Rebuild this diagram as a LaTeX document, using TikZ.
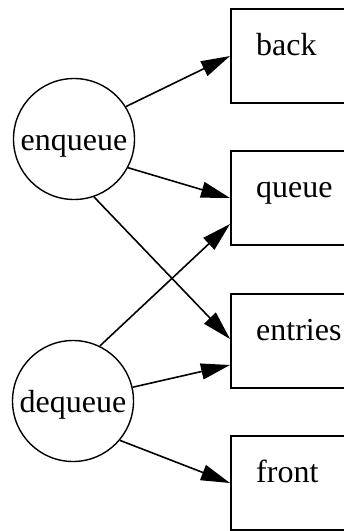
\documentclass[tikz,border=0pt]{standalone}
\usepackage{fontspec}
\setmainfont{Liberation Serif}
\usetikzlibrary{arrows.meta}
\begin{document}
\begin{tikzpicture}[x=1pt,y=-1pt,
  op/.style={circle,draw,line width=1.4pt,minimum size=121pt,inner sep=0pt,
    text height=22pt,text depth=0pt,font=\fontsize{32}{36}\selectfont},
  store/.style={rectangle,draw,line width=2pt,minimum width=140pt,
    minimum height=94pt,anchor=north west,inner sep=0pt},
  lbl/.style={anchor=base west,inner sep=0pt,font=\fontsize{32}{36}\selectfont},
  flow/.style={line width=1.6pt,-{Triangle[length=29pt,width=16pt]}}]
\useasboundingbox (0,0) rectangle (344,531);
\clip (0,0) rectangle (344,531);

% operations
\node[op] (enq) at (74,139) {enqueue};
\node[op] (deq) at (73,401) {dequeue};

% state fields (boxes run off the right edge)
\node[store] (back)    at (230,8)   {};
\node[store] (queue)   at (230,150) {};
\node[store] (entries) at (230,293) {};
\node[store] (front)   at (230,435) {};

\node[lbl] (backtxt)    at ([xshift=26pt,yshift=-47pt]back.north west)    {back};
\node[lbl] (queuetxt)   at ([xshift=26pt,yshift=-47pt]queue.north west)   {queue};
\node[lbl] (entriestxt) at ([xshift=26pt,yshift=-47pt]entries.north west) {entries};
\node[lbl] (fronttxt)   at ([xshift=26pt,yshift=-47pt]front.north west)   {front};

% what each operation touches
\draw[flow] (enq.32)  -- (back.west);
\draw[flow] (enq.-28) -- (queue.west);
\draw[flow] (enq.-71) -- ([yshift=2pt]entries.west);
\draw[flow] (deq.64)  -- ([yshift=-26pt]queue.west);
\draw[flow] (deq.13)  -- ([yshift=-24pt]entries.west);
\draw[flow] (deq.-40) -- (front.west);
\end{tikzpicture}
\end{document}
